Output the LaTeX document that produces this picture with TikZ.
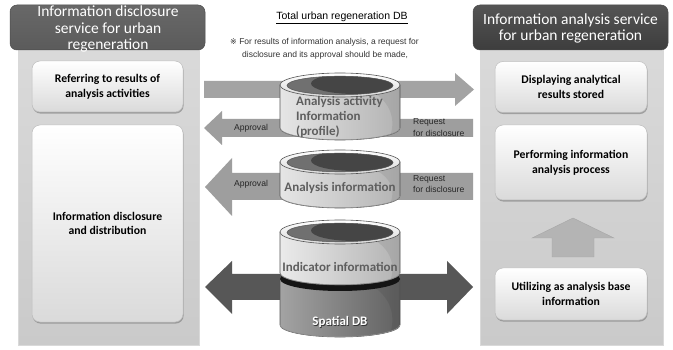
\documentclass[tikz,border=0pt]{standalone}
\usepackage{fontspec}
\setmainfont{Carlito}
\newfontfamily\notefont{Liberation Sans}
\newfontfamily\markfont{DejaVu Sans}
\usetikzlibrary{shadows}

\definecolor{panelTop}{HTML}{DADADA}
\definecolor{panelBot}{HTML}{CACACA}
\definecolor{headLeft}{HTML}{5B5B5B}
\definecolor{headRight}{HTML}{3D3D3D}
\definecolor{boxLine}{HTML}{BDBDBD}
\definecolor{boxBot}{HTML}{DADADA}
\definecolor{arrowLight}{HTML}{A3A3A3}
\definecolor{arrowMid}{HTML}{9E9E9E}
\definecolor{arrowDark}{HTML}{575757}
\definecolor{arrowUp}{HTML}{B4B4B4}
\definecolor{drumLine}{HTML}{555555}
\definecolor{drumText}{HTML}{5E5E5E}
\definecolor{drumIn}{HTML}{707070}
\definecolor{drumInDark}{HTML}{454545}

\tikzset{
  panel/.style={rectangle, inner sep=0pt, top color=panelTop, bottom color=panelBot, draw=white!85!black, line width=0.4pt},
  headbox/.style={rectangle, rounded corners=7pt, inner sep=0pt, draw=black!70, line width=0.5pt},
  headtext/.style={text=white, align=center, font=\fontsize{15.5}{16.5}\selectfont},
  infobox/.style={rectangle, rounded corners=8pt, inner sep=0pt, draw=boxLine, line width=0.5pt,
    top color=white, bottom color=boxBot,
    drop shadow={shadow xshift=0.6pt, shadow yshift=-1.6pt, fill=black!55, opacity=0.55},
    align=center, font=\bfseries\fontsize{11.7}{14.8}\selectfont},
  arrowlabel/.style={font=\notefont\fontsize{8.6}{11.5}\selectfont, text=black!85, align=left, inner sep=0pt},
  drumlabel/.style={font=\bfseries\fontsize{13}{15}\selectfont, text=drumText, inner sep=0pt},
}

% body of a storage drum: centre x, top-centre y, bottom-centre y, three shading colours
\newcommand\drumbody[6]{%
  \path[draw=drumLine, line width=0.6pt, left color=#4, middle color=#5, right color=#6]
    (#1-60,#2) -- (#1-60,#3) arc[start angle=180, end angle=360, x radius=60pt, y radius=12pt]
    -- (#1+60,#2) -- cycle;
  \begin{scope}
    \clip (#1-60,#2) -- (#1-60,#3) arc[start angle=180, end angle=360, x radius=60pt, y radius=12pt]
      -- (#1+60,#2) -- cycle;
    \fill[black, opacity=0.07] (#1+18,#2) .. controls (#1+52,#2+12) and (#1+58,#3-8) .. (#1+48,#3+14)
      -- (#1+62,#3+14) -- (#1+62,#2) -- cycle;
    \draw[black!40, line width=1pt] (#1-60,#3) arc[start angle=180, end angle=360, x radius=60pt, y radius=12pt];
  \end{scope}}

% open top of a storage drum: centre x, centre y
\newcommand\drumtop[2]{%
  \path[draw=drumLine, line width=0.6pt, top color=white, bottom color=black!15]
    (#1,#2) ellipse[x radius=60pt, y radius=12pt];
  \fill[drumIn] (#1,#2+0.5) ellipse[x radius=53pt, y radius=9.3pt];
  \begin{scope}
    \clip (#1,#2+0.5) ellipse[x radius=53pt, y radius=9.3pt];
    \fill[drumInDark] (#1+15,#2-1.5) ellipse[x radius=44pt, y radius=10.5pt];
  \end{scope}
  \draw[drumLine, line width=0.5pt] (#1,#2+0.5) ellipse[x radius=53pt, y radius=9.3pt];}

\begin{document}
\begin{tikzpicture}[x=1pt, y=-1pt]
\useasboundingbox (0,0) rectangle (673,350);
\fill[white] (0,0) rectangle (673,350);

% ---------- side panels ----------
\node[panel, minimum width=181pt, minimum height=305pt] (lpanel) at (108.5,192.5) {};
\node[panel, minimum width=183pt, minimum height=305pt] (rpanel) at (571.5,192.5) {};

\node[headbox, top color=headLeft!92!white, bottom color=headLeft, minimum width=195pt, minimum height=45pt] (lhead) at (107.5,27.5) {};
\node[headtext] (lheadtext) at (108,29) {Information disclosure\\service for urban\\regeneration};

\node[headbox, top color=headRight!88!white, bottom color=headRight, minimum width=195pt, minimum height=45pt] (rhead) at (570.5,27.5) {};
\node[headtext] (rheadtext) at (570.5,28.5) {Information analysis service\\for urban regeneration};

% ---------- boxes of the disclosure service ----------
\node[infobox, minimum width=151pt, minimum height=51pt] (lrefer) at (107.5,86.5) {Referring to results of\\analysis activities};
\node[infobox, minimum width=151pt, minimum height=197pt] (ldist) at (107.5,223.5) {Information disclosure\\and distribution};

% ---------- boxes of the analysis service ----------
\node[infobox, minimum width=152pt, minimum height=51pt] (rshow) at (571,87) {Displaying analytical\\results stored};
\node[infobox, minimum width=152pt, minimum height=75pt] (rrun) at (571,162.5) {Performing information\\analysis process};
\node[infobox, minimum width=152pt, minimum height=52pt] (rbase) at (571,294) {Utilizing as analysis base\\information};

% upward block arrow between the two lower boxes
\path[fill=arrowUp, draw=black!35, line width=0.4pt]
  (573,218) -- (614,238) -- (594,238) -- (594,257) -- (552,257) -- (552,238) -- (532,238) -- cycle;

% ---------- block arrows across the middle ----------
\fill[arrowLight] (204,81) -- (455,81) -- (455,73) -- (474,89.5) -- (455,106) -- (455,98) -- (204,98) -- cycle;
\fill[arrowMid] (204,128) -- (222,111) -- (222,119) -- (473,119) -- (473,137) -- (222,137) -- (222,145) -- cycle;
\fill[arrowMid] (205,187) -- (232,158) -- (232,173) -- (473,173) -- (473,200) -- (232,200) -- (232,216) -- cycle;
\fill[arrowDark] (205,287) -- (232,261) -- (232,274) -- (447,274) -- (447,261) -- (473,287)
  -- (447,314) -- (447,300) -- (232,300) -- (232,314) -- cycle;

\node[arrowlabel] (appr1) at (251,128) {Approval};
\node[arrowlabel] (appr2) at (251,184) {Approval};
\node[arrowlabel, anchor=west] (req1) at (413,127.5) {Request\\for disclosure};
\node[arrowlabel, anchor=west] (req2) at (413,184) {Request\\for disclosure};

% ---------- title and note ----------
\node[font=\notefont\fontsize{10.5}{12}\selectfont, inner sep=0pt] (title) at (342,18) {\underline{Total urban regeneration DB}};
\node[font=\notefont\fontsize{8.5}{10}\selectfont, text=black!80, anchor=west, inner sep=0pt] (note1) at (230,42)
  {{\markfont\fontsize{8}{10}\selectfont ※} For results of information analysis, a request for};
\node[font=\notefont\fontsize{8.5}{10}\selectfont, text=black!80, anchor=west, inner sep=0pt] (note2) at (242,55)
  {disclosure and its approval should be made,};

% ---------- storage drums ----------
% analysis activity information
\drumbody{340}{85}{128}{black!10}{white}{black!30}
\drumtop{340}{85}
% analysis information
\drumbody{340}{162}{196}{black!10}{white}{black!30}
\drumtop{340}{162}
% spatial DB under indicator information
\drumbody{340}{279}{325}{black!36}{black!40}{black!62}
\fill[black!92] (340,279) ellipse[x radius=60pt, y radius=12pt];
\drumbody{340}{232}{273}{black!8}{white}{black!30}
\drumtop{340}{232}

\node[drumlabel, anchor=west, align=left] (dact) at (296,117) {Analysis activity\\Information\\(profile)};
\node[drumlabel] (dana) at (340,188) {Analysis information};
\node[drumlabel] (dind) at (340,267) {Indicator information};
\node[drumlabel, text=black!80] (dspshadow) at (340.7,322.7) {Spatial DB};
\node[drumlabel, text=white] (dspatial) at (340,322) {Spatial DB};

\end{tikzpicture}
\end{document}
